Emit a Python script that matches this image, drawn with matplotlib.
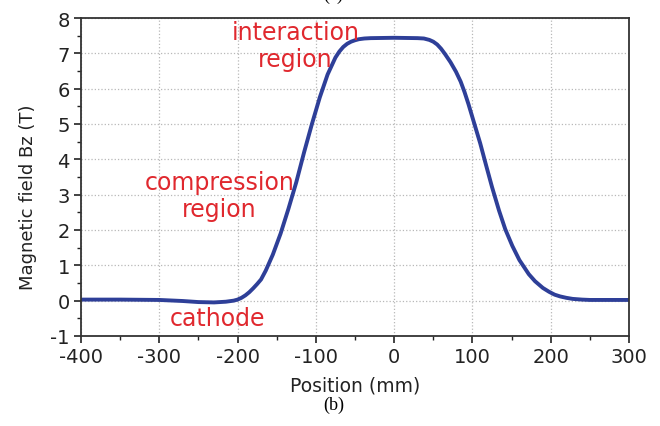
import matplotlib
matplotlib.use("Agg")
import matplotlib.pyplot as plt
from matplotlib.ticker import MultipleLocator

# axial magnetic field profile
position_mm = [-400, -350, -300, -270, -250, -230, -215, -205, -200, -195, -190,
               -185, -180, -175, -170, -164, -155, -145, -135, -125, -115, -105,
               -95, -85, -75, -70, -65, -60, -55, -50, -45, -38, -30, 0, 30, 38,
               45, 50, 55, 60, 65, 72, 79, 85, 90, 95, 100, 110, 117, 125, 134, 142,
               151, 160, 172, 180, 190, 198, 205, 212, 220, 228, 240, 250, 275, 300]
field_T = [0.03, 0.03, 0.02, -0.01, -0.04, -0.05, -0.03, 0.0, 0.03, 0.08, 0.15,
           0.24, 0.35, 0.47, 0.6, 0.85, 1.3, 1.9, 2.6, 3.35, 4.2, 5.0,
           5.75, 6.4, 6.88, 7.05, 7.18, 7.27, 7.33, 7.37, 7.4, 7.42, 7.43, 7.44, 7.43, 7.42,
           7.38, 7.33, 7.25, 7.13, 6.98, 6.75, 6.48, 6.2, 5.9, 5.56, 5.19, 4.45, 3.87, 3.22,
           2.55, 2.02, 1.55, 1.15, 0.75, 0.55, 0.36, 0.25, 0.17, 0.12, 0.08, 0.05, 0.03,
           0.02, 0.02, 0.02]

x_ticks = [-400, -300, -200, -100, 0, 100, 200, 300]
y_ticks = [-1, 0, 1, 2, 3, 4, 5, 6, 7, 8]

labels = ["interaction\nregion", "compression\nregion", "cathode"]
label_x = [-126, -223, -225]
label_y = [7.23, 2.98, -0.49]

plt.rcParams["font.family"] = ["DejaVu Sans"]
plt.rcParams["axes.unicode_minus"] = False

fig = plt.figure(figsize=(6.6, 4.27), dpi=100)
ax = fig.add_axes([0.1227, 0.2108, 0.8303, 0.7447])

ax.plot(position_mm, field_T, color="#2e3f98", linewidth=2.8,
        solid_capstyle="round", solid_joinstyle="round")

ax.set_xlim(-400, 300)
ax.set_ylim(-1, 8)
ax.set_xticks(x_ticks)
ax.set_yticks(y_ticks)
ax.xaxis.set_minor_locator(MultipleLocator(50))
ax.yaxis.set_minor_locator(MultipleLocator(0.5))
ax.tick_params(which="major", direction="out", length=5, width=1.2, labelsize=14,
               pad=3, colors="#222222")
ax.tick_params(which="minor", direction="out", length=3, width=1.0, color="#222222")

ax.grid(True, which="major", linestyle=":", linewidth=0.9, color="#b8b8b8")
for s in ax.spines.values():
    s.set_linewidth(1.3)
    s.set_color("#333333")

ax.set_xlabel("Position (mm)", fontsize=13.5, color="#222222")
ax.xaxis.set_label_coords(0.5, -0.125)
ax.set_ylabel("Magnetic field Bz (T)", fontsize=13, color="#222222")
ax.yaxis.set_label_coords(-0.08, 0.44)

for txt, lx, ly in zip(labels, label_x, label_y):
    ax.text(lx, ly, txt, color="#e0282e", fontsize=17, ha="center", va="center",
            linespacing=1.15)

# panel captions ((a) belongs to the panel above and is mostly cropped)
fig.text(0.505, 1.012, "(a)", fontsize=13, family="Liberation Serif", ha="center", va="center")
fig.text(0.505, 0.05, "(b)", fontsize=13, family="Liberation Serif", ha="center", va="center")

fig.savefig("out.png", dpi=100)
